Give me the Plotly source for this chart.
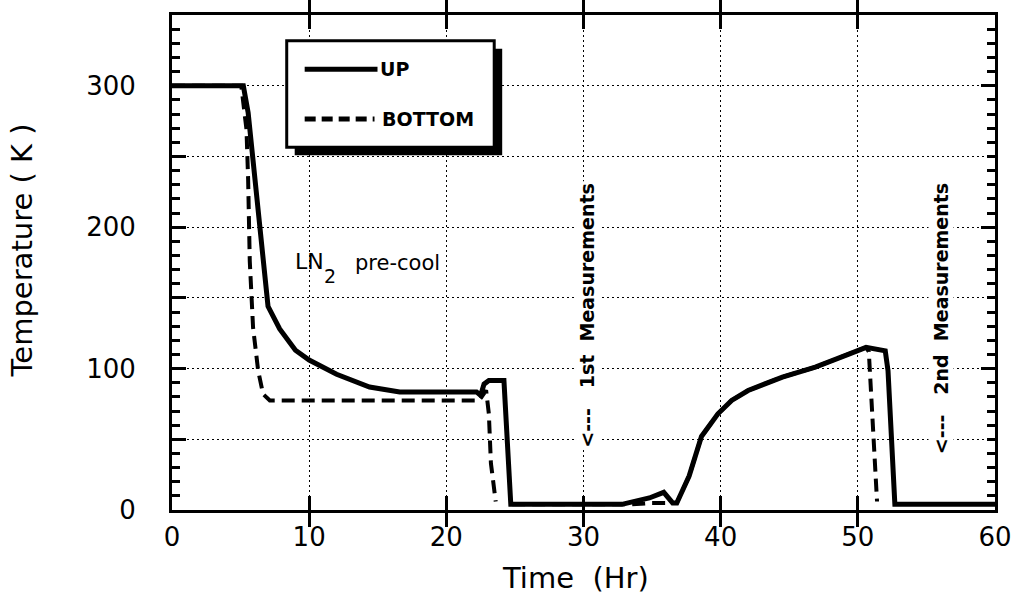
import plotly.graph_objects as go

# ---- data ----
up_time = [0, 5.2, 5.55, 5.9, 6.2, 6.5, 6.75, 7.0, 7.85, 9.0, 10.0, 12.0, 14.4, 16.6,
           22.2, 22.5, 22.75, 23.1, 24.2, 24.35, 24.7, 32.8, 33.8, 34.8, 35.85, 36.5,
           36.8, 37.7, 38.6, 39.8, 40.8, 42.0, 44.5, 46.9, 49.3, 50.6, 52.0, 52.2, 52.7, 60]
up_temp = [300, 300, 281, 246, 218, 185, 164, 144, 128, 113, 106, 96, 87, 83.5,
           83.5, 81, 89, 91.5, 91.5, 68, 4, 4, 6.4, 8.5, 12.5, 5,
           5, 24, 52, 68, 77.5, 84.5, 94, 101, 110, 115, 112.5, 98.5, 4, 4]

bottom_time = [0, 5.05, 5.43, 5.55, 5.67, 5.91, 6.28, 6.64, 7.13, 22.4, 22.9, 23.1,
               23.25, 23.6, None, 24.8, 33.5, 35.0, 36.3, 36.8, 37.7, 38.6, 39.8, 40.8,
               42.0, 44.5, 46.9, 49.3, 50.6, 50.8, 51.4]
bottom_temp = [300, 300, 269, 234, 176, 129, 98.6, 82, 77.5, 77.5, 84.6, 68,
               33, 6, None, 4, 4, 5, 5, 5, 24, 52, 68, 77.5,
               84.5, 94, 101, 110, 115, 112, 6]

series_names = ["UP", "BOTTOM"]
x_ticks = [0, 10, 20, 30, 40, 50, 60]
y_label_ticks = [0, 100, 200, 300]
y_half_ticks = [50, 150, 250, 350]

x_title = "Time  (Hr)"
y_title = "Temperature ( K )"
note_1 = "&lt;---   1st  Measurements"
note_2 = "&lt;---   2nd  Measurements"
note_ln = "LN"
note_ln_sub = "2"
note_precool = "pre-cool"

FONT = "DejaVu Sans"

# geometry helpers (pixels -> paper)
L, R, T, B = 172, 997, 12, 510
def px(x):
    return (x - L) / (R - L)
def py(y):
    return (B - y) / (B - T)

fig = go.Figure()
fig.add_trace(go.Scatter(x=bottom_time, y=bottom_temp, mode="lines", name=series_names[1],
                         line=dict(color="black", width=4, dash="13px,7px"),
                         connectgaps=False, showlegend=False))
fig.add_trace(go.Scatter(x=up_time, y=up_temp, mode="lines", name=series_names[0],
                         line=dict(color="black", width=5), showlegend=False))
# invisible helper trace on the secondary y axis (carries the half-step grid)
fig.add_trace(go.Scatter(x=[None], y=[None], yaxis="y2", showlegend=False,
                         hoverinfo="skip"))

grid_common = dict(showgrid=True, gridcolor="black", gridwidth=1.3, griddash="2px,3px")
tick_common = dict(ticks="inside", tickcolor="black", tickwidth=3, ticklen=14)

fig.update_layout(
    xaxis=dict(range=[0, 60], tickvals=x_ticks, ticktext=[str(v) for v in x_ticks],
               showline=True, linecolor="black", linewidth=3, mirror="allticks",
               zeroline=False, ticklabelstandoff=2,
               tickfont=dict(family=FONT, size=26, color="black"),
               **grid_common, **tick_common),
    yaxis=dict(range=[0, 350], tickvals=y_label_ticks,
               ticktext=[str(v) for v in y_label_ticks],
               showline=True, linecolor="black", linewidth=3, mirror="allticks",
               zeroline=False, ticklabelstandoff=28,
               tickfont=dict(family=FONT, size=26, color="black"),
               minor=dict(dtick=10, ticks="inside", ticklen=8, tickwidth=2.5,
                          tickcolor="black", showgrid=False),
               **grid_common, **tick_common),
    yaxis2=dict(range=[0, 350], overlaying="y", side="left", tickvals=y_half_ticks,
                showticklabels=False, showline=False, zeroline=False,
                **grid_common, **tick_common),
)

shapes = []
# legend shadow and box
shapes.append(dict(type="rect", xref="paper", yref="paper",
                   x0=px(295), x1=px(503), y0=py(153), y1=py(46),
                   fillcolor="black", line=dict(color="black", width=0), layer="above"))
shapes.append(dict(type="rect", xref="paper", yref="paper",
                   x0=px(287), x1=px(495), y0=py(145), y1=py(38),
                   fillcolor="white", line=dict(color="black", width=3), layer="above"))
shapes.append(dict(type="line", xref="paper", yref="paper",
                   x0=px(305), x1=px(378), y0=py(66.7), y1=py(66.7),
                   line=dict(color="black", width=5), layer="above"))
shapes.append(dict(type="line", xref="paper", yref="paper",
                   x0=px(305), x1=px(375), y0=py(116.7), y1=py(116.7),
                   line=dict(color="black", width=5, dash="11px,6px"), layer="above"))

annotations = [
    dict(text="<b>" + series_names[0] + "</b>", xref="paper", yref="paper",
         x=px(378), y=py(66.7), xanchor="left", yanchor="middle", showarrow=False,
         font=dict(family=FONT, size=19, color="black")),
    dict(text="<b>" + series_names[1] + "</b>", xref="paper", yref="paper",
         x=px(381), y=py(116.7), xanchor="left", yanchor="middle", showarrow=False,
         font=dict(family=FONT, size=19, color="black")),
    dict(text=note_ln, xref="paper", yref="paper", x=px(326), y=py(259.5),
         xanchor="right", yanchor="middle", showarrow=False,
         font=dict(family=FONT, size=22, color="black")),
    dict(text=note_ln_sub, xref="paper", yref="paper", x=px(322), y=py(275),
         xanchor="left", yanchor="middle", showarrow=False,
         font=dict(family=FONT, size=19, color="black")),
    dict(text=note_precool, xref="paper", yref="paper", x=px(353), y=py(261),
         xanchor="left", yanchor="middle", showarrow=False,
         font=dict(family=FONT, size=21, color="black")),
    dict(text="<b>" + note_1 + "</b>", x=30.25, y=138, xref="x", yref="y",
         showarrow=False, textangle=-90, bgcolor="white",
         font=dict(family=FONT, size=19, color="black")),
    dict(text="<b>" + note_2 + "</b>", x=56.07, y=135, xref="x", yref="y",
         showarrow=False, textangle=-90, bgcolor="white",
         font=dict(family=FONT, size=19, color="black")),
    dict(text=x_title, xref="paper", yref="paper", x=px(576.5), y=py(578),
         xanchor="center", yanchor="middle", showarrow=False,
         font=dict(family=FONT, size=29, color="black")),
    dict(text=y_title, xref="paper", yref="paper", x=px(22), y=py(248.5),
         xanchor="center", yanchor="middle", showarrow=False, textangle=-90,
         font=dict(family=FONT, size=29, color="black")),
]

fig.update_layout(width=1024, height=605,
                  margin=dict(l=L, r=1024 - R, t=T, b=605 - B),
                  paper_bgcolor="white", plot_bgcolor="white",
                  shapes=shapes, annotations=annotations, showlegend=False)

fig.write_html("out.html")
